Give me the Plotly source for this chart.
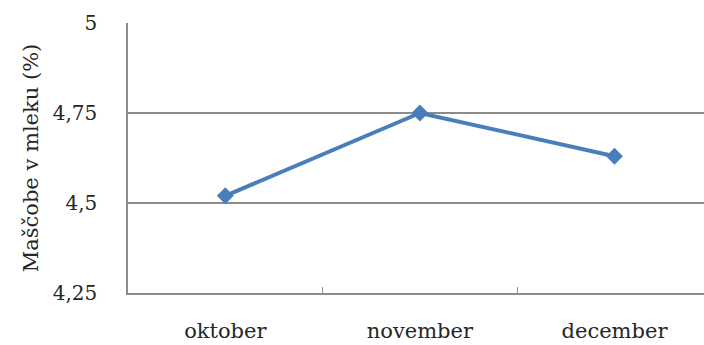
import plotly.graph_objects as go

months = ["oktober", "november", "december"]
fat_pct = [4.52, 4.75, 4.63]
y_ticks = [4.25, 4.5, 4.75, 5]

line_blue = "#4A7EBB"
axis_grey = "#8C8C8C"
text_col = "#262626"
serif = "DejaVu Serif"
label_font = dict(family=serif, size=21, color=text_col)

fig = go.Figure(
    go.Scatter(
        x=months,
        y=fat_pct,
        mode="lines+markers",
        line=dict(color=line_blue, width=4),
        marker=dict(symbol="diamond", size=13, color=line_blue),
        cliponaxis=False,
        showlegend=False,
    )
)

fig.update_layout(
    width=704,
    height=345,
    margin=dict(l=128, r=0, t=23, b=52),
    paper_bgcolor="white",
    plot_bgcolor="white",
    separators=", ",
    font=label_font,
)

fig.update_xaxes(
    type="category",
    range=[-0.5, 2.46],
    automargin=False,
    showgrid=False,
    showline=True,
    linecolor=axis_grey,
    linewidth=1.5,
    ticks="inside",
    tickson="boundaries",
    ticklen=6,
    tickcolor=axis_grey,
    tickwidth=1,
    ticklabelstandoff=18,
    tickfont=label_font,
)

fig.update_yaxes(
    range=[4.25, 5],
    tickvals=y_ticks,
    automargin=False,
    showgrid=True,
    gridcolor=axis_grey,
    gridwidth=1.5,
    showline=True,
    linecolor=axis_grey,
    linewidth=1.5,
    ticks="",
    zeroline=False,
    ticklabelstandoff=25,
    tickfont=dict(family=serif, size=20, color=text_col),
    title=dict(text="Maščobe v mleku (%)", font=label_font, standoff=8),
)

fig.write_html("out.html")
